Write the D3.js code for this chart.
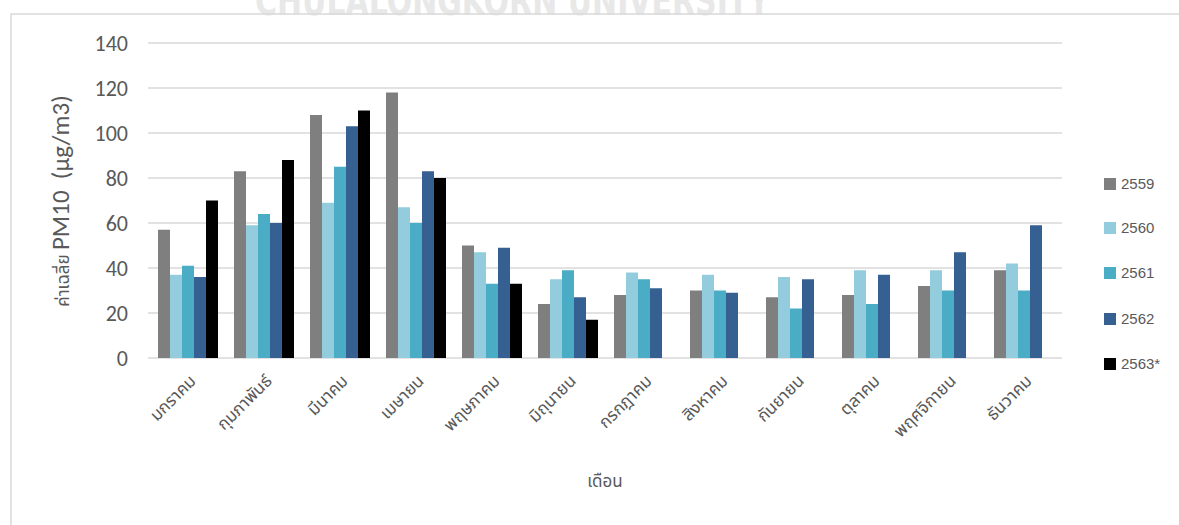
<!DOCTYPE html>
<html><head><meta charset="utf-8">
<script src="https://cdn.jsdelivr.net/npm/d3@7"></script>
<style>
body{margin:0;background:#fff;}
svg{display:block;}
</style></head>
<body><svg id="c" width="1179" height="525"></svg>
<script>
const months = ["มกราคม","กุมภาพันธ์","มีนาคม","เมษายน","พฤษภาคม","มิถุนายน","กรกฎาคม","สิงหาคม","กันยายน","ตุลาคม","พฤศจิกายน","ธันวาคม"];
const seriesNames = ["2559","2560","2561","2562","2563*"];
const v2559 = [57, 83, 108, 118, 50, 24, 28, 30, 27, 28, 32, 39];
const v2560 = [37, 59, 69, 67, 47, 35, 38, 37, 36, 39, 39, 42];
const v2561 = [41, 64, 85, 60, 33, 39, 35, 30, 22, 24, 30, 30];
const v2562 = [36, 60, 103, 83, 49, 27, 31, 29, 35, 37, 47, 59];
const v2563 = [70, 88, 110, 80, 33, 17, null, null, null, null, null, null];
const yTicks = [0, 20, 40, 60, 80, 100, 120, 140];
const colors = ["#7f7f7f", "#93cddd", "#4aacc5", "#366092", "#000000"];
const seriesValues = [v2559, v2560, v2561, v2562, v2563];

const svg = d3.select("#c");
const thai = "'Noto Sans Thai','Noto Sans Thai UI','Loma','Garuda','Tlwg Typo','Norasi',sans-serif";
const lat = "Carlito,'Open Sans','Liberation Sans',sans-serif";
const arial = "'Liberation Sans',Arial,sans-serif";

// watermark
svg.append("text").attr("x", 255).attr("y", 15).attr("textLength", 515).attr("lengthAdjust","spacingAndGlyphs")
  .attr("font-family","'Liberation Sans Narrow','DejaVu Sans Condensed',sans-serif").attr("font-weight","bold")
  .attr("font-size", 40).attr("fill","#e8e8e8").text("CHULALONGKORN UNIVERSITY");

// border
svg.append("rect").attr("x", 11).attr("y", 14).attr("width", 1200).attr("height", 600)
  .attr("fill","none").attr("stroke","#d9d9d9").attr("stroke-width", 1.5);

const x = d3.scaleBand().domain(months).range([150, 1062]).paddingInner(0).paddingOuter(0);
const y = d3.scaleLinear().domain([0, 140]).range([358, 43]);
const barW = 12;
const inner = d3.scaleBand().domain(seriesNames).range([0, barW*5]);

// grid
svg.append("g").selectAll("line").data(yTicks).join("line")
  .attr("x1", 148).attr("x2", 1062).attr("y1", d => y(d)).attr("y2", d => y(d))
  .attr("stroke","#d9d9d9").attr("stroke-width", 1.5);

// y axis labels
const yAxis = d3.axisLeft(y).tickValues(yTicks).tickSize(0).tickPadding(0);
const gy = svg.append("g").attr("transform","translate(128,0)").call(yAxis);
gy.select(".domain").remove();
gy.selectAll("text").attr("font-family", lat).attr("font-size", 22).attr("fill","#595959");

// bars
const gBars = svg.append("g");
seriesNames.forEach((s, si) => {
  const data = months.map((m, i) => ({m, v: seriesValues[si][i]})).filter(d => d.v != null);
  gBars.append("g").selectAll("rect").data(data).join("rect")
    .attr("x", d => x(d.m) + (x.bandwidth() - barW*5)/2 + inner(s))
    .attr("y", d => y(d.v))
    .attr("width", inner.bandwidth())
    .attr("height", d => y(0) - y(d.v))
    .attr("fill", colors[si]);
});

// x labels
const xAxis = d3.axisBottom(x).tickSize(0).tickPadding(0);
const gx = svg.append("g").attr("transform","translate(0,358)").call(xAxis);
gx.select(".domain").remove();
gx.selectAll("text").attr("font-family", thai).attr("font-size", 17).attr("fill","#595959")
  .attr("text-anchor","end").attr("dy", 0).attr("y", 0)
  .attr("transform","translate(9,24) rotate(-45)");

// x title
svg.append("text").attr("x", 605).attr("y", 487).attr("text-anchor","middle")
  .attr("font-family", thai).attr("font-size", 17).attr("fill","#595959").text("เดือน");

// y title
const yt = svg.append("text").attr("transform","translate(69,201) rotate(-90)").attr("text-anchor","middle")
  .attr("fill","#595959");
yt.append("tspan").attr("font-family", thai).attr("font-size", 17).text("ค่าเฉลี่ย\u00a0");
yt.append("tspan").attr("font-family", lat).attr("font-size", 25).text("PM10\u00a0\u00a0(µg/m3)");

// legend
const legY = [184, 228, 273, 319, 364];
const leg = svg.append("g");
seriesNames.forEach((s, i) => {
  leg.append("rect").attr("x", 1104).attr("y", legY[i] - 6).attr("width", 12).attr("height", 12).attr("fill", colors[i]);
  leg.append("text").attr("x", 1121).attr("y", legY[i]).attr("dy","0.35em")
    .attr("font-family", arial).attr("font-size", 15).attr("fill","#595959").text(s);
});
</script></body></html>
